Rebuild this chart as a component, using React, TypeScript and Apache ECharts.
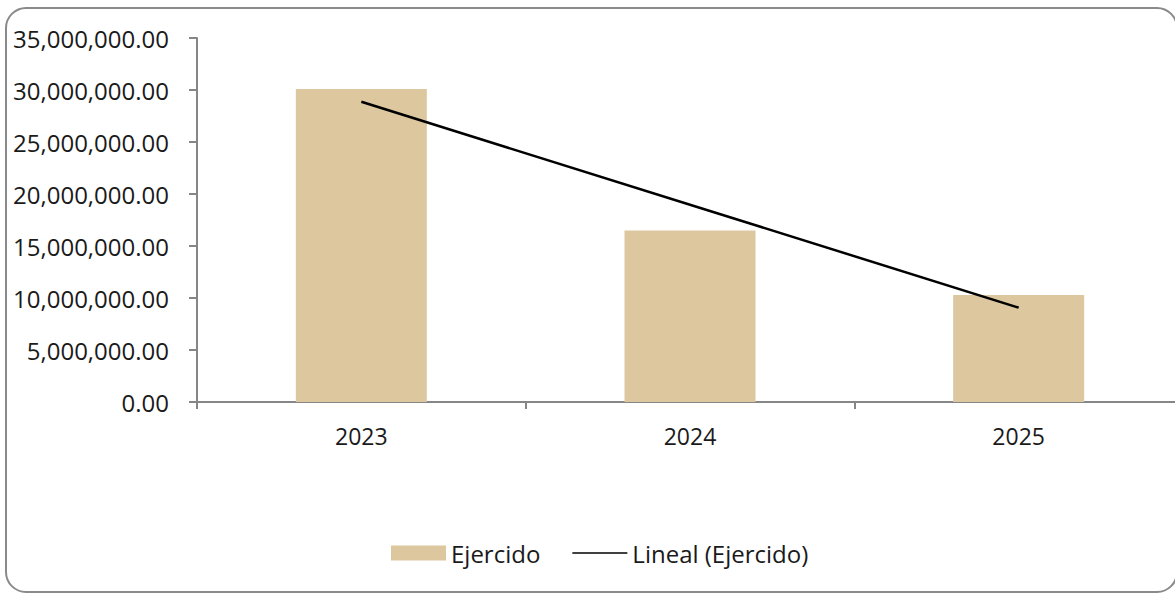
import React, { useEffect, useRef } from "react";
import * as echarts from "echarts";

const categories = ["2023", "2024", "2025"];
const ejercido = [30100000, 16500000, 10300000];
const linealEjercido = [28870000, 18970000, 9070000];
const yTicks = { min: 0, max: 35000000, interval: 5000000 };

const fmt = (v: number) =>
  v.toLocaleString("en-US", { minimumFractionDigits: 2, maximumFractionDigits: 2 });

export default function App() {
  const ref = useRef<HTMLDivElement>(null);
  useEffect(() => {
    if (!ref.current) return;
    const chart = echarts.init(ref.current, undefined, { renderer: "svg" });
    const font = "Open Sans";
    chart.setOption({
      animation: false,
      backgroundColor: "#ffffff",
      textStyle: { fontFamily: font },
      graphic: [
        {
          type: "rect",
          shape: { x: 6, y: 8, width: 1171, height: 584, r: 20 },
          style: { fill: "none", stroke: "#8a8a8a", lineWidth: 2 },
          z: 100,
        },
      ],
      grid: { left: 197, right: 7, top: 38, bottom: 191, containLabel: false },
      legend: {
        bottom: 23,
        left: 386,
        itemWidth: 55,
        itemHeight: 15,
        itemGap: 32,
        textStyle: { fontFamily: font, fontSize: 24, color: "#1a1a1a" },
        data: [
          { name: "Ejercido", icon: "rect" },
          { name: "Lineal (Ejercido)", icon: "path://M0,0 L10,0 L10,0.3 L0,0.3 Z", itemStyle: { color: "#000" } },
        ],
      },
      xAxis: {
        type: "category",
        data: categories,
        axisLine: { lineStyle: { color: "#868686", width: 2 } },
        axisTick: { show: true, length: 7, lineStyle: { color: "#868686", width: 2 } },
        axisLabel: { fontFamily: font, fontSize: 23, color: "#1a1a1a", margin: 22 },
      },
      yAxis: {
        type: "value",
        min: yTicks.min,
        max: yTicks.max,
        interval: yTicks.interval,
        splitLine: { show: false },
        axisLine: { show: true, lineStyle: { color: "#868686", width: 2 } },
        axisTick: { show: true, length: 8, lineStyle: { color: "#868686", width: 2 } },
        axisLabel: { fontFamily: font, fontSize: 24, color: "#1a1a1a", margin: 28, formatter: fmt },
      },
      series: [
        {
          name: "Ejercido",
          type: "bar",
          data: ejercido,
          barWidth: 131,
          itemStyle: { color: "#DCC79F" },
        },
        {
          name: "Lineal (Ejercido)",
          type: "line",
          data: linealEjercido,
          symbol: "none",
          lineStyle: { color: "#000000", width: 2.5 },
          itemStyle: { color: "#000000" },
        },
      ],
    });
    return () => chart.dispose();
  }, []);
  return (
    <div style={{ position: "fixed", left: 0, top: 0, width: 1175, height: 593, overflow: "hidden", background: "#fff" }}>
      <div ref={ref} style={{ width: 1190, height: 593 }} />
    </div>
  );
}
